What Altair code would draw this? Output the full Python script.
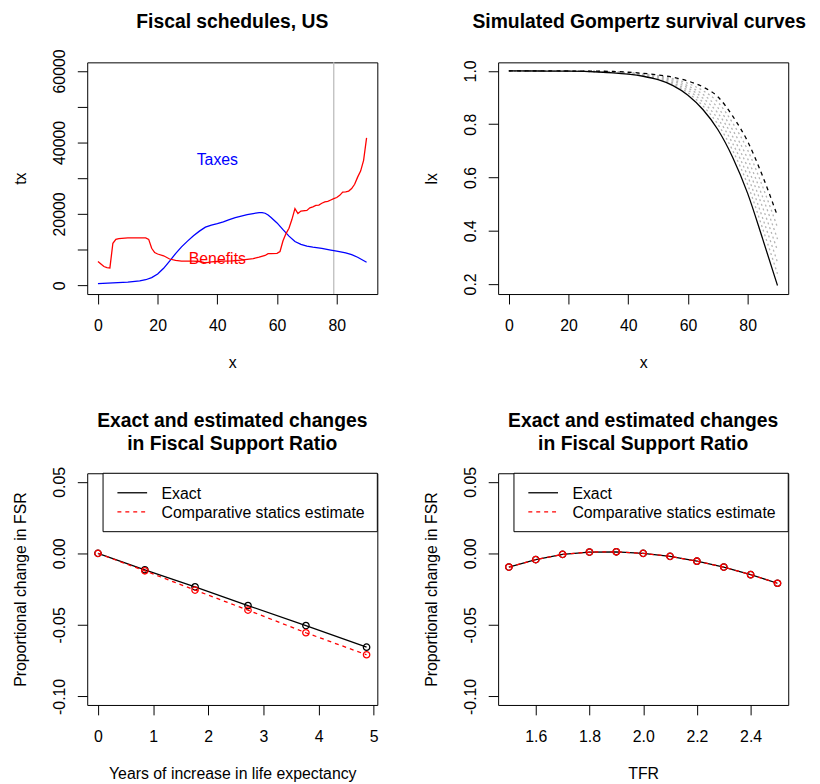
import altair as alt
import pandas as pd

FONT = "Liberation Sans"

# ---------------- Panel 1: fiscal schedules ----------------
tax_ages = [0, 5, 10, 14, 16, 18, 20, 22, 24, 26, 28, 30, 32, 34, 36, 38, 40, 42, 44, 46,
            48, 50, 52, 54, 55, 56, 57, 58, 60, 62, 64, 66, 68, 70, 72, 75, 78, 80, 83,
            85, 87, 90]
taxes = [500, 700, 930, 1300, 1600, 2200, 3200, 4800, 6800, 8900, 10800, 12400, 13900,
         15200, 16300, 16900, 17300, 17800, 18400, 19000, 19400, 19800, 20100, 20400,
         20400, 20200, 19700, 19000, 17500, 15600, 13800, 12300, 11500, 11000, 10700,
         10400, 9900, 9600, 9100, 8600, 7900, 6500]
ben_ages = [0, 1, 2, 3, 4, 5, 6, 7, 8, 10, 12, 14, 16, 17, 18, 19, 20, 22, 24, 26, 28, 30,
            32, 34, 36, 38, 40, 42, 45, 48, 50, 52, 54, 56, 57, 58, 60, 61, 62, 63, 64, 65,
            66, 67, 68, 70, 71, 72, 73, 74, 75, 76, 77, 78, 79, 80, 81, 82, 83, 84, 85, 86,
            87, 88, 89, 90]
benefits = [6700, 6000, 5300, 5000, 4900, 11800, 12900, 13100, 13200, 13300, 13300, 13300,
            13300, 12900, 10400, 9200, 8800, 8300, 7400, 7000, 6800, 6800, 6800, 6700, 6300,
            6600, 6700, 6800, 6900, 7100, 7300, 7500, 7900, 8400, 8900, 8900, 9000, 9500,
            12500, 14500, 16000, 18500, 21500, 20100, 20800, 21000, 21700, 22000, 22400,
            22500, 23000, 23400, 23500, 23900, 24300, 24600, 25200, 26100, 26200, 26400,
            27100, 28300, 30300, 32000, 35000, 41300]
marker_age = [79]
fiscal_labels = ["Taxes", "Benefits"]
fiscal_label_age = [40, 40]
fiscal_label_val = [35000, 7500]
fiscal_label_col = ["#0000FF", "#FF0000"]

# ---------------- Panel 2: Gompertz survival ----------------
lx_ages = [0, 10, 20, 30, 35, 40, 45, 50, 55, 60, 65, 70, 75, 80, 85, 90]
lx_base = [1.0, 0.9997, 0.999, 0.996, 0.993, 0.988, 0.980, 0.967, 0.945, 0.909, 0.855,
           0.780, 0.675, 0.540, 0.370, 0.194]
lx_sims = [
    [1.0, 0.9998, 0.9991, 0.9965, 0.994, 0.989, 0.982, 0.970, 0.950, 0.918, 0.869, 0.800, 0.701, 0.573, 0.409, 0.238],
    [1.0, 0.9998, 0.9992, 0.9970, 0.995, 0.990, 0.984, 0.973, 0.955, 0.927, 0.883, 0.821, 0.727, 0.605, 0.448, 0.281],
    [1.0, 0.9999, 0.9994, 0.9975, 0.9955, 0.992, 0.986, 0.976, 0.961, 0.936, 0.898, 0.842, 0.753, 0.638, 0.488, 0.325],
    [1.0, 0.9999, 0.9995, 0.9980, 0.996, 0.993, 0.987, 0.979, 0.966, 0.944, 0.912, 0.862, 0.778, 0.670, 0.527, 0.368],
    [1.0, 1.0, 0.9996, 0.9985, 0.997, 0.994, 0.989, 0.982, 0.971, 0.953, 0.926, 0.883, 0.804, 0.703, 0.566, 0.412],
]
lx_top = [1.0, 1.0, 0.9997, 0.999, 0.998, 0.995, 0.991, 0.985, 0.976, 0.962, 0.940, 0.903,
          0.830, 0.735, 0.605, 0.455]

# ---------------- Panel 3: life expectancy ----------------
le_gain = [0, 0.85, 1.76, 2.72, 3.77, 4.87]
fsr_exact_le = [0, -0.0115, -0.0234, -0.0365, -0.0505, -0.0656]
fsr_est_le = [0, -0.0122, -0.0257, -0.0397, -0.0555, -0.0709]

# ---------------- Panel 4: TFR ----------------
tfr = [1.5, 1.6, 1.7, 1.8, 1.9, 2.0, 2.1, 2.2, 2.3, 2.4, 2.5]
fsr_exact_tfr = [-0.0096, -0.0044, -0.0007, 0.0009, 0.0011, 0.0, -0.0021, -0.0055, -0.0096, -0.0149, -0.0209]
fsr_est_tfr = [-0.0096, -0.0044, -0.0007, 0.0009, 0.0011, 0.0, -0.0021, -0.0055, -0.0096, -0.0149, -0.0209]

legend_items = ["Exact", "Comparative statics estimate"]
titles = ["Fiscal schedules, US", "Simulated Gompertz survival curves",
          "Exact and estimated changes", "in Fiscal Support Ratio"]

W, H = 293, 234
LW = 1.3
one = pd.DataFrame({"k": [0]})


def x_axis(values, title, fmt=None, expr=None):
    kw = dict(values=values, title=title, grid=False, domain=False, ticks=True, tickSize=10,
              tickColor="black", tickWidth=1, labelFont=FONT, labelFontSize=16,
              labelColor="black", labelPadding=21.5, labelBaseline="middle", labelAlign="center",
              labelAngle=0, labelFlush=False, labelOverlap=False, titleFont=FONT,
              titleFontSize=16, titleFontWeight="normal", titleColor="black", titlePadding=30,
              titleBaseline="middle", minExtent=39, maxExtent=39)
    if fmt:
        kw["format"] = fmt
    if expr:
        kw["labelExpr"] = expr
    return alt.Axis(**kw)


def y_axis(values, title, fmt=None, expr=None):
    kw = dict(values=values, title=title, grid=False, domain=False, ticks=True, tickSize=10,
              tickColor="black", tickWidth=1, labelFont=FONT, labelFontSize=16,
              labelColor="black", labelPadding=18, labelBaseline="middle", labelAlign="center",
              labelAngle=270, labelFlush=False, labelOverlap=False, titleFont=FONT,
              titleFontSize=16, titleFontWeight="normal", titleColor="black", titlePadding=30,
              titleBaseline="middle", titleAngle=270, minExtent=37, maxExtent=37)
    if fmt:
        kw["format"] = fmt
    if expr:
        kw["labelExpr"] = expr
    return alt.Axis(**kw)


def title_layer(text, dy, dx=0):
    return alt.Chart(one).mark_text(font=FONT, fontSize=19.5, fontWeight="bold", color="black",
                                    align="center", baseline="middle").encode(
        x=alt.value(W / 2 + dx), y=alt.value(dy), text=alt.value(text))


# ---------- Panel 1 ----------
sx1 = alt.Scale(domain=[-3.6, 93.6], nice=False, zero=False)
sy1 = alt.Scale(domain=[-2400, 62400], nice=False, zero=False)
ax1 = x_axis([0, 20, 40, 60, 80], "x", fmt="d")
ay1 = y_axis([0, 10000, 20000, 30000, 40000, 50000, 60000], "tx",
             expr="datum.value % 20000 == 0 ? format(datum.value, 'd') : ''")

X1 = alt.X("age:Q", scale=sx1, axis=ax1)
Y1 = alt.Y("val:Q", scale=sy1, axis=ay1)

df_tax = pd.DataFrame({"age": tax_ages, "val": taxes})
df_ben = pd.DataFrame({"age": ben_ages, "val": benefits})
df_mark = pd.DataFrame({"age": marker_age})
df_lab = pd.DataFrame({"age": fiscal_label_age, "val": fiscal_label_val,
                       "lab": fiscal_labels, "col": fiscal_label_col})

p1 = alt.layer(
    alt.Chart(df_mark).mark_rule(color="#BEBEBE", strokeWidth=LW).encode(x=X1),
    alt.Chart(df_tax).mark_line(color="#0000FF", strokeWidth=LW).encode(x=X1, y=Y1),
    alt.Chart(df_ben).mark_line(color="#FF0000", strokeWidth=LW).encode(x=X1, y=Y1),
    alt.Chart(df_lab).mark_text(font=FONT, fontSize=16, align="center", baseline="middle").encode(
        x=X1, y=Y1, text="lab:N", color=alt.Color("col:N", scale=None)),
    title_layer(titles[0], -41),
).properties(width=W, height=H)

# ---------- Panel 2 ----------
sx2 = alt.Scale(domain=[-3.6, 93.6], nice=False, zero=False)
sy2 = alt.Scale(domain=[0.1618, 1.0322], nice=False, zero=False)
ax2 = x_axis([0, 20, 40, 60, 80], "x", fmt="d")
ay2 = y_axis([0.2, 0.4, 0.6, 0.8, 1.0], "lx", fmt=".1f")
X2 = alt.X("age:Q", scale=sx2, axis=ax2)
Y2 = alt.Y("lx:Q", scale=sy2, axis=ay2)

rows = []
for i, s in enumerate(lx_sims):
    for a, v in zip(lx_ages, s):
        rows.append({"age": a, "lx": v, "sim": i})
df_sims = pd.DataFrame(rows)
df_base = pd.DataFrame({"age": lx_ages, "lx": lx_base})
df_top = pd.DataFrame({"age": lx_ages, "lx": lx_top})

p2 = alt.layer(
    alt.Chart(df_sims).mark_line(color="#B4B4B4", strokeWidth=LW, strokeDash=[2, 3],
                                 interpolate="monotone").encode(x=X2, y=Y2, detail="sim:N"),
    alt.Chart(df_base).mark_line(color="black", strokeWidth=LW, interpolate="monotone").encode(x=X2, y=Y2),
    alt.Chart(df_top).mark_line(color="black", strokeWidth=LW, strokeDash=[4, 4],
                                interpolate="monotone").encode(x=X2, y=Y2),
    title_layer(titles[1], -41, dx=-4),
).properties(width=W, height=H)


# ---------- legend helper ----------
def legend_layers():
    return [
        alt.Chart(one).mark_rect(fill="white", stroke="black", strokeWidth=1).encode(
            x=alt.value(16), x2=alt.value(W), y=alt.value(0), y2=alt.value(59)),
        alt.Chart(one).mark_rule(color="black", strokeWidth=LW).encode(
            x=alt.value(30.5), x2=alt.value(60.5), y=alt.value(19.7)),
        alt.Chart(one).mark_rule(color="#FF0000", strokeWidth=LW, strokeDash=[4, 4]).encode(
            x=alt.value(30.5), x2=alt.value(60.5), y=alt.value(39)),
        alt.Chart(one).mark_text(font=FONT, fontSize=16, align="left", baseline="middle",
                                 color="black").encode(
            x=alt.value(75), y=alt.value(21), text=alt.value(legend_items[0])),
        alt.Chart(one).mark_text(font=FONT, fontSize=16, align="left", baseline="middle",
                                 color="black").encode(
            x=alt.value(75), y=alt.value(40.5), text=alt.value(legend_items[1])),
        title_layer(titles[2], -53),
        title_layer(titles[3], -29),
    ]


sy34 = alt.Scale(domain=[-0.106, 0.056], nice=False, zero=False)
neg_expr = "(datum.value < -0.0001 ? '-' : '') + format(abs(datum.value), '.2f')"

# ---------- Panel 3 ----------
sx3 = alt.Scale(domain=[-0.1948, 5.0648], nice=False, zero=False)
ax3 = x_axis([0, 1, 2, 3, 4, 5], "Years of increase in life expectancy", fmt="d")
ay3 = y_axis([-0.10, -0.05, 0.0, 0.05], "Proportional change in FSR", expr=neg_expr)
X3 = alt.X("g:Q", scale=sx3, axis=ax3)
Y3 = alt.Y("v:Q", scale=sy34, axis=ay3)
df_le_ex = pd.DataFrame({"g": le_gain, "v": fsr_exact_le})
df_le_es = pd.DataFrame({"g": le_gain, "v": fsr_est_le})

p3 = alt.layer(
    *legend_layers(),
    alt.Chart(df_le_ex).mark_line(color="black", strokeWidth=LW).encode(x=X3, y=Y3),
    alt.Chart(df_le_ex).mark_point(shape="circle", filled=False, size=42, strokeWidth=LW,
                                   color="black", opacity=1).encode(x=X3, y=Y3),
    alt.Chart(df_le_es).mark_line(color="#FF0000", strokeWidth=LW, strokeDash=[4, 4]).encode(x=X3, y=Y3),
    alt.Chart(df_le_es).mark_point(shape="circle", filled=False, size=42, strokeWidth=LW,
                                   color="#FF0000", opacity=1).encode(x=X3, y=Y3),
).properties(width=W, height=H)

# ---------- Panel 4 ----------
sx4 = alt.Scale(domain=[1.46, 2.54], nice=False, zero=False)
ax4 = x_axis([1.6, 1.8, 2.0, 2.2, 2.4], "TFR", fmt=".1f")
ay4 = y_axis([-0.10, -0.05, 0.0, 0.05], "Proportional change in FSR", expr=neg_expr)
X4 = alt.X("t:Q", scale=sx4, axis=ax4)
Y4 = alt.Y("v:Q", scale=sy34, axis=ay4)
df_tfr_ex = pd.DataFrame({"t": tfr, "v": fsr_exact_tfr})
df_tfr_es = pd.DataFrame({"t": tfr, "v": fsr_est_tfr})

p4 = alt.layer(
    *legend_layers(),
    alt.Chart(df_tfr_ex).mark_line(color="black", strokeWidth=LW).encode(x=X4, y=Y4),
    alt.Chart(df_tfr_ex).mark_point(shape="circle", filled=False, size=42, strokeWidth=LW,
                                    color="black", opacity=1).encode(x=X4, y=Y4),
    alt.Chart(df_tfr_es).mark_line(color="#FF0000", strokeWidth=LW, strokeDash=[4, 4]).encode(x=X4, y=Y4),
    alt.Chart(df_tfr_es).mark_point(shape="circle", filled=False, size=42, strokeWidth=LW,
                                    color="#FF0000", opacity=1).encode(x=X4, y=Y4),
).properties(width=W, height=H)

chart = alt.concat(p1, p2, p3, p4, columns=2, spacing={"row": 181, "column": 122},
                   bounds="flush").properties(
    padding={"left": 4, "top": -1, "right": 5, "bottom": 5}
).configure_view(stroke="black", strokeWidth=1)

chart.save("out.html", embed_options={"renderer": "svg", "actions": False})
